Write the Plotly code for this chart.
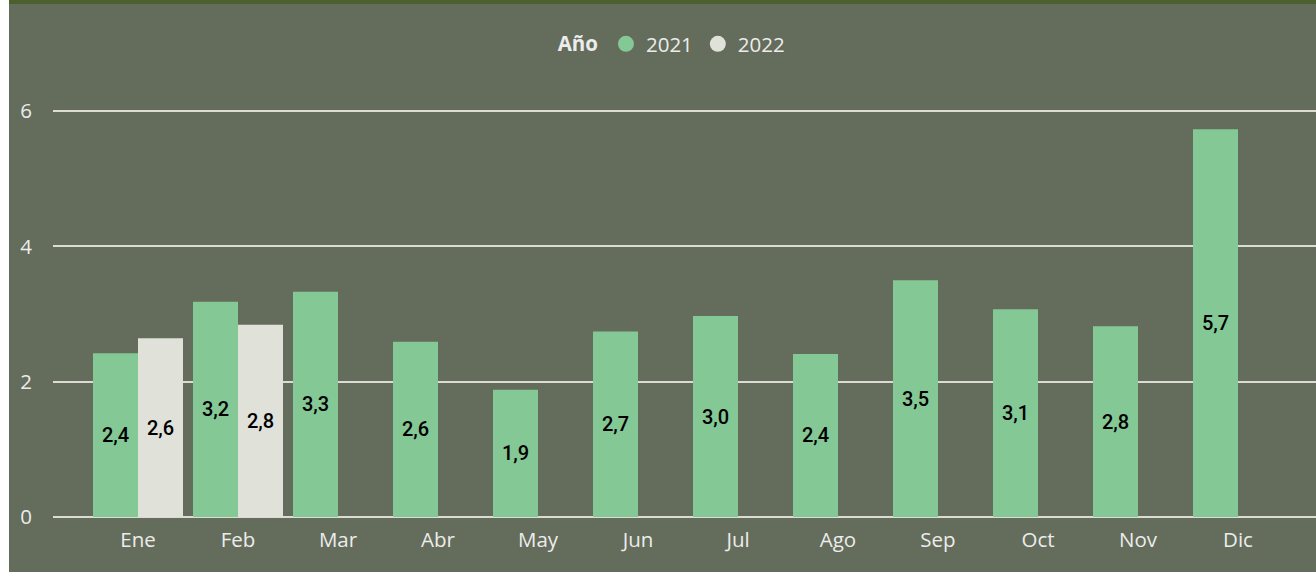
import plotly.graph_objects as go

# Monthly values per year
meses = ["Ene", "Feb", "Mar", "Abr", "May", "Jun", "Jul", "Ago", "Sep", "Oct", "Nov", "Dic"]
valores_2021 = [2.42, 3.18, 3.33, 2.59, 1.88, 2.74, 2.97, 2.41, 3.50, 3.07, 2.82, 5.73]
valores_2022 = [2.64, 2.84, None, None, None, None, None, None, None, None, None, None]
y_ticks = [0, 2, 4, 6]

COLOR_2021 = "#84c896"
COLOR_2022 = "#e0e2d9"
FONDO = "#646c5b"
TEXTO = "#ececec"

W, H = 1316, 572
ML, MR, MT, MB = 53, 0, 70, 55
PW, PH = W - ML - MR, H - MT - MB


def etiqueta(v):
    return "" if v is None else f"{v:.1f}".replace(".", ",")


def px_x(p):
    return (p - ML) / PW


def px_y(p):
    return 1 + (MT - p) / PH


fig = go.Figure()

for nombre, vals, color in [("2021", valores_2021, COLOR_2021), ("2022", valores_2022, COLOR_2022)]:
    fig.add_trace(go.Bar(
        x=meses, y=vals, name=nombre,
        marker=dict(color=color, line=dict(width=0)),
        text=[etiqueta(v) for v in vals],
        textposition="inside", insidetextanchor="middle", textangle=0,
        constraintext="none",
        textfont=dict(family="Roboto, sans-serif", size=20, color="#000000", weight=500),
        showlegend=False, hoverinfo="skip",
    ))

# Round legend markers
for nombre, color in [("2021", COLOR_2021), ("2022", COLOR_2022)]:
    fig.add_trace(go.Scatter(
        x=[None], y=[None], mode="markers", name=nombre,
        marker=dict(symbol="circle", size=22, color=color),
        showlegend=True, hoverinfo="skip",
    ))

shapes = [
    # top band
    dict(type="rect", xref="paper", yref="paper",
         x0=px_x(0), x1=px_x(W), y0=px_y(4), y1=px_y(0),
         fillcolor="#4b602d", line=dict(width=0), layer="above"),
    # left edge strip
    dict(type="rect", xref="paper", yref="paper",
         x0=px_x(0), x1=px_x(9), y0=px_y(H), y1=px_y(0),
         fillcolor="#ffffff", line=dict(width=0), layer="above"),
]

fig.update_layout(
    width=W, height=H,
    margin=dict(l=ML, r=MR, t=MT, b=MB, pad=0),
    paper_bgcolor=FONDO, plot_bgcolor=FONDO,
    barmode="group", bargap=0.1, bargroupgap=0,
    font=dict(family="Open Sans, Noto Sans, sans-serif", size=20.5, color=TEXTO),
    legend=dict(
        orientation="h", x=0.491, xanchor="center", y=px_y(44), yanchor="middle",
        title=dict(text="<b>Año</b>", font=dict(size=20.5, color=TEXTO)),
        font=dict(size=20.5, color=TEXTO), bgcolor="rgba(0,0,0,0)",
        itemwidth=30, tracegroupgap=0,
    ),
    xaxis=dict(
        type="category", range=[-0.85, 11.78], showgrid=False, zeroline=False,
        showline=False, ticks="", tickfont=dict(size=20.5, color=TEXTO),
        ticklabelstandoff=8, fixedrange=True,
    ),
    yaxis=dict(
        range=[0, PH / 67.67], tickvals=y_ticks, ticktext=[str(t) for t in y_ticks],
        showgrid=True, gridcolor="#dcdcd4", gridwidth=2,
        zeroline=True, zerolinecolor="#dcdcd4", zerolinewidth=2,
        showline=False, ticks="", tickfont=dict(size=20.5, color=TEXTO),
        ticklabelstandoff=20, fixedrange=True,
    ),
    shapes=shapes,
)

fig.write_html("out.html")
